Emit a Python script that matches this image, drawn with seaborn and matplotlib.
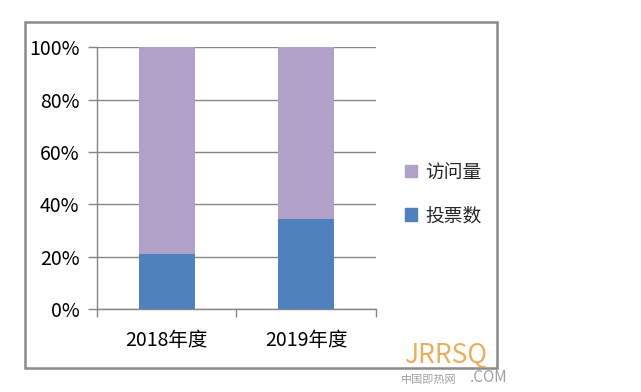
import pandas as pd
import numpy as np
import matplotlib.pyplot as plt
import matplotlib.patches as mpatches
import seaborn as sns
from matplotlib.ticker import FixedLocator, PercentFormatter

# 数据（百分比堆积柱形图）
categories = ["2018年度", "2019年度"]
votes_pct = [21, 34.5]          # 投票数
visits_pct = [79, 65.5]         # 访问量
series_names = ["访问量", "投票数"]

df = pd.DataFrame({"年度": categories, "投票数": votes_pct, "访问量": visits_pct})
df["合计"] = df["投票数"] + df["访问量"]

sns.set_theme(style="white")
plt.rcParams["font.family"] = ["Noto Sans CJK SC", "DejaVu Sans"]

color_blue = "#4F81BD"
color_purple = "#B1A0C7"
grid_color = "#868686"

fig = plt.figure(figsize=(6.41, 3.92), dpi=100)
ax = fig.add_axes([0.1513, 0.2117, 0.4353, 0.668])

sns.barplot(data=df, x="年度", y="合计", color=color_purple, width=0.4,
            saturation=1, linewidth=0, edgecolor="none", ax=ax, zorder=3)
sns.barplot(data=df, x="年度", y="投票数", color=color_blue, width=0.4,
            saturation=1, linewidth=0, edgecolor="none", ax=ax, zorder=3)

ax.set_ylim(0, 100)
ax.set_xlim(-0.5, 1.5)
ax.set_yticks(np.arange(0, 101, 20))
ax.yaxis.set_major_formatter(PercentFormatter(decimals=0))
ax.yaxis.grid(True, color=grid_color, linewidth=1)
ax.set_axisbelow(True)
ax.set_xlabel("")
ax.set_ylabel("")

for s in ["top", "right"]:
    ax.spines[s].set_visible(False)
for s in ["left", "bottom"]:
    ax.spines[s].set_color(grid_color)
    ax.spines[s].set_linewidth(1)

ax.tick_params(axis="y", which="major", length=6.5, width=1, color=grid_color,
               pad=6, labelsize=14, labelcolor="black", left=True)
ax.tick_params(axis="x", which="major", length=0, pad=15, labelsize=14,
               labelcolor="black")
ax.xaxis.set_minor_locator(FixedLocator([-0.5, 0.5, 1.5]))
ax.tick_params(axis="x", which="minor", length=6, width=1, color=grid_color,
               bottom=True)

# 图例
handles = [mpatches.Patch(color=color_purple, label=series_names[0]),
           mpatches.Patch(color=color_blue, label=series_names[1])]
fig.legend(handles=handles, loc="center left", bbox_to_anchor=(0.605, 0.505),
           frameon=False, fontsize=13.5, handlelength=0.65, handleheight=0.65,
           handletextpad=0.45, labelspacing=1.2)

# 外边框
fig.patches.append(mpatches.Rectangle((25 / 641, 1 - 368 / 392), 472 / 641, 346 / 392,
                                      transform=fig.transFigure, fill=False,
                                      edgecolor="#8A8A8A", linewidth=1.8))

# 水印
fig.text(0.63, 0.058, "JRRSQ", color="#E8A040", fontsize=19, alpha=0.85,
         fontstyle="italic", ha="left", va="bottom")
fig.text(0.625, 0.018, "中国即热网", color="#A0A0A0", fontsize=8, ha="left", va="bottom")
fig.text(0.733, 0.015, ".COM", color="#A0A0A0", fontsize=11, ha="left", va="bottom")

fig.savefig("out.png", dpi=100, facecolor="white")
